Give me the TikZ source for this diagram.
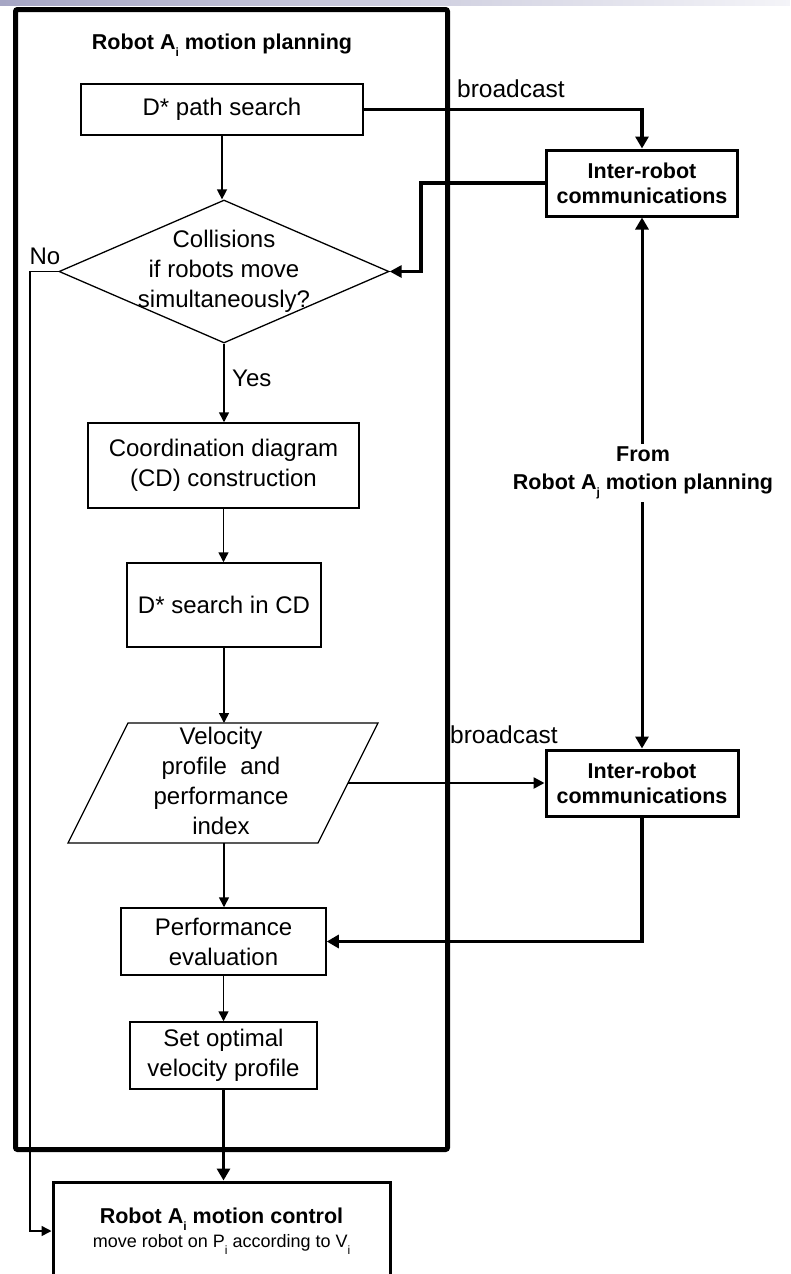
\documentclass[tikz,border=0pt]{standalone}
\usepackage{fontspec}
\setmainfont{Liberation Sans}
\usetikzlibrary{arrows.meta,calc,shapes.geometric}
\definecolor{barL}{HTML}{A6A6C4}
\definecolor{barR}{HTML}{F4F4F8}
\newcommand{\sbi}[1]{\raisebox{-0.35em}{\fontsize{12}{12}\selectfont #1}}
\tikzset{
  reg/.style={font=\fontsize{24}{30}\selectfont},
  bld/.style={font=\bfseries\fontsize{21.5}{25}\selectfont},
  flowbox/.style={draw, line width=1.5pt, inner sep=0pt, align=center, reg},
  commbox/.style={draw, line width=3pt, inner sep=0pt, align=center, bld},
  thinarrow/.style={line width=1.5pt, -{Triangle[length=10pt,width=10pt]}},
  thickarrow/.style={line width=3.5pt, -{Triangle[length=12pt,width=13pt]}},
  midarrow/.style={line width=2.5pt, -{Triangle[length=11pt,width=11pt]}},
  botharrow/.style={line width=3pt, {Triangle[length=12pt,width=13pt]}-{Triangle[length=12pt,width=13pt]}},
}
\begin{document}
\begin{tikzpicture}[x=1pt,y=-1pt]
\useasboundingbox (0,0) rectangle (790,1274);
\clip (0,0) rectangle (790,1274);
\fill[white] (0,0) rectangle (790,1274);
\shade[left color=barL, right color=barR] (0,0) rectangle (790,5);

% planning frame
\node[draw, line width=5pt, rounded corners=2pt, minimum width=432pt, minimum height=1140pt, inner sep=0pt] (frame) at (231.5,579.5) {};
\node[bld] (title) at (222,45) {Robot A\sbi{i} motion planning};

% main flow
\node[flowbox, minimum width=282pt, minimum height=51pt] (dstar) at (222,109.5) {D* path search};
\node[draw, diamond, line width=1.3pt, minimum width=330pt, minimum height=143pt, inner sep=0pt] (dia) at (224,271.5) {};
\node[reg, align=center] (diatxt) at (dia.center) {Collisions\\if robots move\\simultaneously?};
\node[flowbox, minimum width=271pt, minimum height=85pt] (coord) at (223.5,465.5) {Coordination diagram\\(CD) construction};
\node[flowbox, minimum width=194pt, minimum height=84pt] (dcd) at (224,605) {D* search in CD};
\draw[line width=1.3pt] (128,723) coordinate (pTL) -- (378,723) coordinate (pTR) -- (318,843) coordinate (pBR) -- (68,843) coordinate (pBL) -- cycle;
\coordinate (pin) at (224,723);
\coordinate (pout) at (224,843);
\coordinate (pright) at (348,783);
\node[reg, align=center] (para) at (221,781) {Velocity\\profile~ and\\performance\\index};
\node[flowbox, minimum width=205pt, minimum height=67pt] (perf) at (223.5,941.5) {Performance\\evaluation};
\node[flowbox, minimum width=187pt, minimum height=67pt] (setopt) at (223.5,1055.5) {Set optimal\\velocity profile};
\node[draw, line width=3pt, inner sep=0pt, align=center, minimum width=337pt, minimum height=98pt] (mc) at (221.5,1231)
  {{\bfseries\fontsize{21.5}{25}\selectfont Robot A\sbi{i} motion control}\\[3pt]{\fontsize{18}{22}\selectfont move robot on P\sbi{i} according to V\sbi{i}}};

% communications
\node[commbox, minimum width=191pt, minimum height=66pt] (irc1) at (642,183) {Inter-robot\\communications};
\node[commbox, minimum width=192pt, minimum height=66pt] (irc2) at (642,783) {Inter-robot\\communications};

% labels
\node[reg, anchor=center] (nolbl) at (45,256) {No};
\node[reg, anchor=west, inner sep=0pt] (yeslbl) at (232,378) {Yes};
\node[font=\fontsize{24.5}{30}\selectfont, anchor=west, inner sep=0pt] (bc1) at (457,89) {broadcast};
\node[font=\fontsize{24.5}{30}\selectfont, anchor=west, inner sep=0pt] (bc2) at (450,735) {broadcast};

% flow connectors
\draw[thinarrow] (dstar.south) -- (dstar.south |- dia.north);
\draw[thinarrow] (dia.south) -- (dia.south |- coord.north);
\draw[thinarrow] (coord.south) -- (coord.south |- dcd.north);
\draw[thinarrow] (dcd.south) -- (pin);
\draw[thinarrow] (pout) -- (pout |- perf.north);
\draw[thinarrow] (perf.south) -- (perf.south |- setopt.north);
\draw[thickarrow] (setopt.south) -- (setopt.south |- mc.north);
\coordinate (nocorner) at (30,271.5);
\draw[thinarrow] (dia.west) -- (nocorner) |- (mc.west);

% communication connectors
\draw[thickarrow] (dstar.east) -| (irc1.north);
\coordinate (k1) at (421,183);
\draw[line width=3.5pt, -{Triangle[length=12pt,width=12pt]}] (irc1.west) -- (k1) |- (dia.east);
\draw[botharrow] (irc2.north) -- (irc1.south);
\node[bld, fill=white, align=center, inner sep=3pt, font=\bfseries\fontsize{21.5}{28}\selectfont] (fromlbl) at (643,473) {From\\Robot A\sbi{j} motion planning};
\draw[midarrow] (pright) -- (pright -| irc2.west);
\draw[thickarrow] (irc2.south) |- (perf.east);
\end{tikzpicture}
\end{document}
